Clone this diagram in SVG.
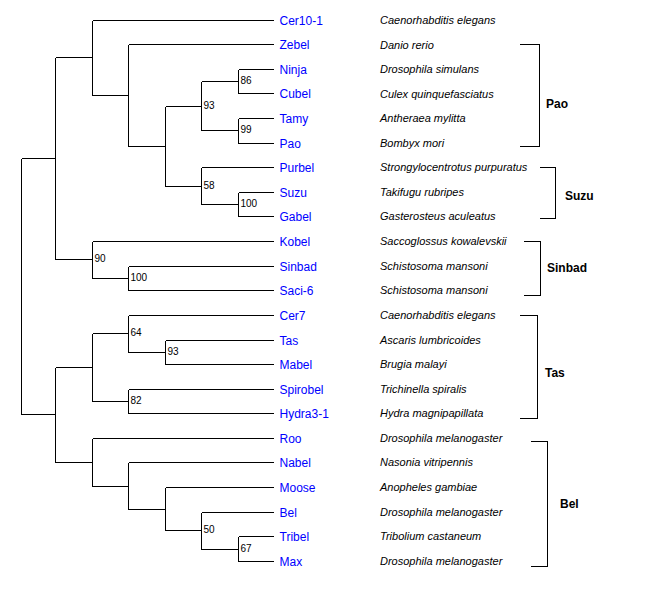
<svg xmlns="http://www.w3.org/2000/svg" width="649" height="589" viewBox="0 0 649 589">
<style>
.e{fill:none;stroke:#000;stroke-width:1;shape-rendering:crispEdges}
.leaf{font-family:"Liberation Sans",Arial,sans-serif;font-size:12px;fill:#0000ff}
.sp{font-family:"Liberation Sans",Arial,sans-serif;font-size:11px;font-style:italic;fill:#000}
.bs{font-family:"Liberation Sans",Arial,sans-serif;font-size:10px;fill:#000}
.cl{font-family:"Liberation Sans",Arial,sans-serif;font-size:12px;font-weight:bold;fill:#000}
</style>
<rect width="649" height="589" fill="#fff"/>
<g id="connectors" class="e">
<path d="M21.5 158.5V414.5M21.5 158.5H55M21.5 414.5H55"/>
<path d="M55.5 57.5V259.5M55.5 57.5H92M55.5 259.5H92"/>
<path d="M92.5 20.5V95.5M92.5 20.5H274M92.5 95.5H128"/>
<path d="M128.5 44.5V146.5M128.5 44.5H274M128.5 146.5H165"/>
<path d="M165.5 106.5V186.5M165.5 106.5H201M165.5 186.5H201"/>
<path d="M201.5 81.5V130.5M201.5 81.5H238M201.5 130.5H238"/>
<path d="M238.5 69.5V93.5M238.5 69.5H274M238.5 93.5H274"/>
<path d="M238.5 118.5V143.5M238.5 118.5H274M238.5 143.5H274"/>
<path d="M201.5 167.5V204.5M201.5 167.5H274M201.5 204.5H238"/>
<path d="M238.5 192.5V216.5M238.5 192.5H274M238.5 216.5H274"/>
<path d="M92.5 241.5V278.5M92.5 241.5H274M92.5 278.5H128"/>
<path d="M128.5 266.5V290.5M128.5 266.5H274M128.5 290.5H274"/>
<path d="M55.5 367.5V462.5M55.5 367.5H92M55.5 462.5H92"/>
<path d="M92.5 333.5V401.5M92.5 333.5H128M92.5 401.5H128"/>
<path d="M128.5 315.5V352.5M128.5 315.5H274M128.5 352.5H165"/>
<path d="M165.5 340.5V364.5M165.5 340.5H274M165.5 364.5H274"/>
<path d="M128.5 389.5V413.5M128.5 389.5H274M128.5 413.5H274"/>
<path d="M92.5 438.5V486.5M92.5 438.5H274M92.5 486.5H128"/>
<path d="M128.5 462.5V509.5M128.5 462.5H274M128.5 509.5H165"/>
<path d="M165.5 487.5V530.5M165.5 487.5H274M165.5 530.5H201"/>
<path d="M201.5 512.5V549.5M201.5 512.5H274M201.5 549.5H238"/>
<path d="M238.5 536.5V561.5M238.5 536.5H274M238.5 561.5H274"/>
</g>
<g id="support-values" class="bs">
<text x="203.5" y="109">93</text>
<text x="240.5" y="84">86</text>
<text x="240.5" y="133">99</text>
<text x="203.5" y="189">58</text>
<text x="240.5" y="207">100</text>
<text x="94.5" y="262">90</text>
<text x="130.5" y="281">100</text>
<text x="130.5" y="336">64</text>
<text x="167.5" y="355">93</text>
<text x="130.5" y="404">82</text>
<text x="203.5" y="533">50</text>
<text x="240.5" y="552">67</text>
</g>
<g id="n-cer10-1"><text class="leaf" x="279.5" y="24.5">Cer10-1</text><text class="sp" x="380" y="24">Caenorhabditis elegans</text></g>
<g id="n-zebel"><text class="leaf" x="279.5" y="49">Zebel</text><text class="sp" x="380" y="48.5">Danio rerio</text></g>
<g id="n-ninja"><text class="leaf" x="279.5" y="73.5">Ninja</text><text class="sp" x="380" y="73">Drosophila simulans</text></g>
<g id="n-cubel"><text class="leaf" x="279.5" y="98">Cubel</text><text class="sp" x="380" y="97.5">Culex quinquefasciatus</text></g>
<g id="n-tamy"><text class="leaf" x="279.5" y="122.5">Tamy</text><text class="sp" x="380" y="122">Antheraea mylitta</text></g>
<g id="n-pao"><text class="leaf" x="279.5" y="147.5">Pao</text><text class="sp" x="380" y="147">Bombyx mori</text></g>
<g id="n-purbel"><text class="leaf" x="279.5" y="171.5">Purbel</text><text class="sp" x="380" y="171">Strongylocentrotus purpuratus</text></g>
<g id="n-suzu"><text class="leaf" x="279.5" y="196.5">Suzu</text><text class="sp" x="380" y="196">Takifugu rubripes</text></g>
<g id="n-gabel"><text class="leaf" x="279.5" y="220.5">Gabel</text><text class="sp" x="380" y="220">Gasterosteus aculeatus</text></g>
<g id="n-kobel"><text class="leaf" x="279.5" y="245.5">Kobel</text><text class="sp" x="380" y="245">Saccoglossus kowalevskii</text></g>
<g id="n-sinbad"><text class="leaf" x="279.5" y="270.5">Sinbad</text><text class="sp" x="380" y="270">Schistosoma mansoni</text></g>
<g id="n-saci-6"><text class="leaf" x="279.5" y="294.5">Saci-6</text><text class="sp" x="380" y="294">Schistosoma mansoni</text></g>
<g id="n-cer7"><text class="leaf" x="279.5" y="319.5">Cer7</text><text class="sp" x="380" y="319">Caenorhabditis elegans</text></g>
<g id="n-tas"><text class="leaf" x="279.5" y="344.5">Tas</text><text class="sp" x="380" y="344">Ascaris lumbricoides</text></g>
<g id="n-mabel"><text class="leaf" x="279.5" y="368.5">Mabel</text><text class="sp" x="380" y="368">Brugia malayi</text></g>
<g id="n-spirobel"><text class="leaf" x="279.5" y="393.5">Spirobel</text><text class="sp" x="380" y="393">Trichinella spiralis</text></g>
<g id="n-hydra3-1"><text class="leaf" x="279.5" y="417.5">Hydra3-1</text><text class="sp" x="380" y="417">Hydra magnipapillata</text></g>
<g id="n-roo"><text class="leaf" x="279.5" y="442.5">Roo</text><text class="sp" x="380" y="442">Drosophila melanogaster</text></g>
<g id="n-nabel"><text class="leaf" x="279.5" y="466.5">Nabel</text><text class="sp" x="380" y="466">Nasonia vitripennis</text></g>
<g id="n-moose"><text class="leaf" x="279.5" y="491.5">Moose</text><text class="sp" x="380" y="491">Anopheles gambiae</text></g>
<g id="n-bel"><text class="leaf" x="279.5" y="516.5">Bel</text><text class="sp" x="380" y="516">Drosophila melanogaster</text></g>
<g id="n-tribel"><text class="leaf" x="279.5" y="540.5">Tribel</text><text class="sp" x="380" y="540">Tribolium castaneum</text></g>
<g id="n-max"><text class="leaf" x="279.5" y="565.5">Max</text><text class="sp" x="380" y="565">Drosophila melanogaster</text></g>
<g id="clade-pao"><path class="e" d="M520 44.5H539.5V146.5H520"/><text class="cl" x="546" y="108">Pao</text></g>
<g id="clade-suzu"><path class="e" d="M540 167.5H555.5V218.5H540"/><text class="cl" x="565" y="200">Suzu</text></g>
<g id="clade-sinbad"><path class="e" d="M524 241.5H540.5V295.5H524"/><text class="cl" x="547" y="271.5">Sinbad</text></g>
<g id="clade-tas"><path class="e" d="M520 315.5H537.5V418.5H520"/><text class="cl" x="545" y="376.5">Tas</text></g>
<g id="clade-bel"><path class="e" d="M531 441.5H547.5V566.5H531"/><text class="cl" x="560" y="507.5">Bel</text></g>
</svg>
